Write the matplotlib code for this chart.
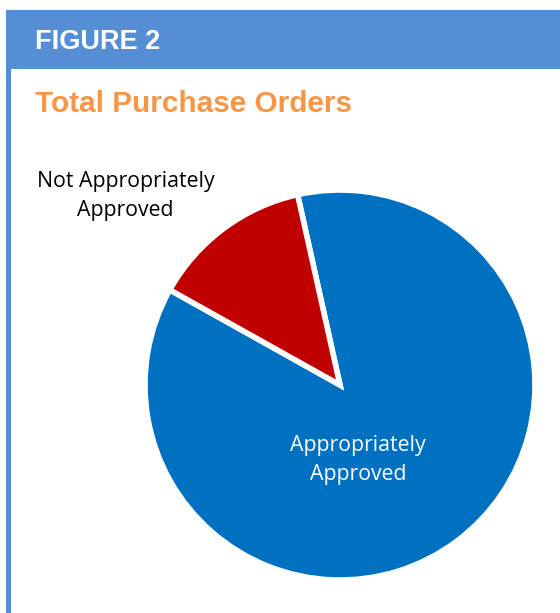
import matplotlib
matplotlib.use('Agg')
import matplotlib.pyplot as plt
from matplotlib.patches import Rectangle

# Data
categories = ['Appropriately\nApproved', 'Not Appropriately\nApproved']
shares = [86.6, 13.4]
colors = ['#0070C0', '#C00000']

figLabel = 'FIGURE 2'
title = 'Total Purchase Orders'

W, H = 560, 613
fig = plt.figure(figsize=(W / 100, H / 100), dpi=100)

def px(x, y):
    #pixel (from top-left) to figure fraction
    return x / W, 1 - y / H

#Header band and left border
fig.patches.append(Rectangle(px(6, 69), (W - 6) / W, 59 / H, transform=fig.transFigure,
                             facecolor='#558ED5', edgecolor='none'))
fig.patches.append(Rectangle(px(6, H), 5 / W, (H - 69) / H, transform=fig.transFigure,
                             facecolor='#558ED5', edgecolor='none'))

fig.text(*px(35, 42), figLabel, color='white', fontsize=19.5, fontweight='bold',
         family='Liberation Sans', va='center', ha='left')
fig.text(*px(35, 104), title, color='#F79646', fontsize=21.4, fontweight='bold',
         family='Liberation Sans', va='center', ha='left')

#Pie axes: centre (340, 385), radius 195 px
cx, cy, r = 340, 385, 195
ax = fig.add_axes([(cx - r) / W, 1 - (cy + r) / H, 2 * r / W, 2 * r / H])
ax.pie(shares, colors=colors, startangle=150.8, counterclock=True,
       wedgeprops={'edgecolor': 'white', 'linewidth': 4})
ax.set_xlim(-1, 1)
ax.set_ylim(-1, 1)
ax.set_aspect('equal')
ax.axis('off')

ax.text(0.093, -0.385, categories[0], color='white', fontsize=15.3, ha='center', va='center',
        family='Open Sans', linespacing=1.5)
ax.text(-1.1, 0.97, categories[1], color='black', fontsize=15.3, ha='center', va='center',
        family='Open Sans', linespacing=1.5, clip_on=False)

fig.savefig('out.png', dpi=100)
